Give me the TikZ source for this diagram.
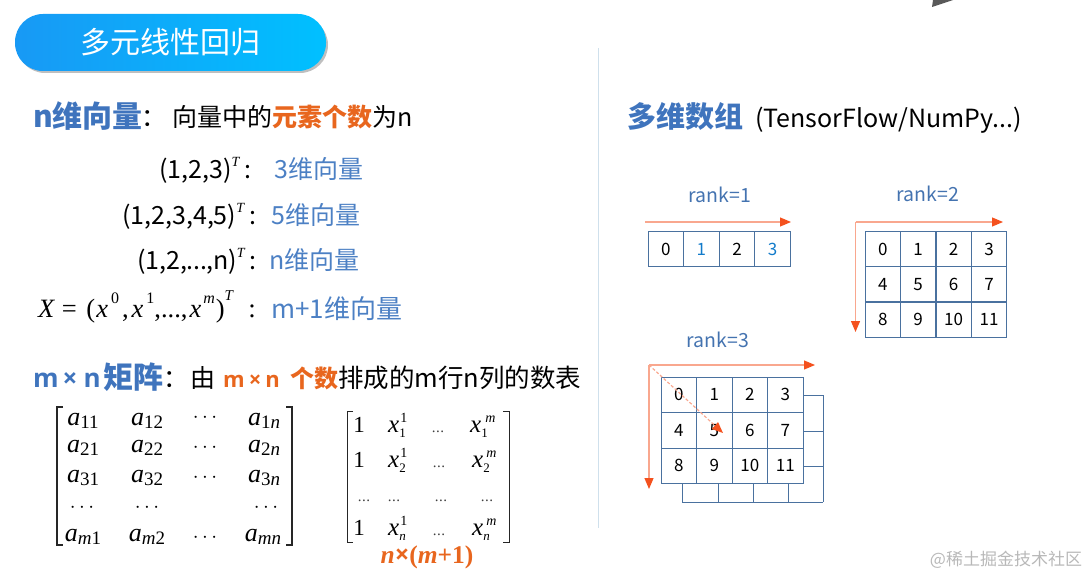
\documentclass[tikz,border=0pt]{standalone}
\usepackage{fontspec}
\setmainfont{Noto Sans CJK SC}
\newfontfamily\timesfont{Liberation Serif}
\newfontfamily\latinfont{Open Sans}
\usetikzlibrary{arrows.meta}
\definecolor{headblue}{HTML}{3F74BD}
\definecolor{softblue}{HTML}{4C80C4}
\definecolor{hotorange}{HTML}{E8661E}
\definecolor{gridblue}{HTML}{4A719F}
\definecolor{axisred}{HTML}{F4511E}
\definecolor{axispale}{HTML}{F9A78E}
\definecolor{divblue}{HTML}{CFE0EC}
\definecolor{pillleft}{HTML}{1899F5}
\definecolor{pillright}{HTML}{00C0FF}
\newcommand{\fsz}[1]{\fontsize{#1}{#1}\selectfont}
\newcommand{\ment}[2]{{\timesfont\itshape a\raisebox{-3pt}{\fsz{19}\upshape #1\itshape #2}}}
\newcommand{\xent}[3]{{\timesfont\itshape x\rlap{\hspace{#3}\raisebox{10pt}{\fsz{14}#2}}\raisebox{-5pt}{\fsz{13}#1}}}
\newcommand{\supT}{\raisebox{.5em}{\timesfont\itshape\fsz{14}T}\hspace{5pt}}
\newcommand{\supx}[1]{\raisebox{.5em}{\timesfont\fsz{16}#1}}
\newcommand{\tdots}{.\hspace{.6pt}.\hspace{.6pt}.}
\tikzset{
  txt/.style={inner sep=0pt,anchor=base west},
  vecline/.style={txt,font=\fsz{25}},
  vecname/.style={vecline,text=softblue},
  headtxt/.style={txt,font=\fsz{30}\bfseries,text=headblue},
  bodytxt/.style={txt,font=\fsz{25}},
  hottxt/.style={txt,font=\fsz{25}\bfseries,text=hotorange},
  matcell/.style={inner sep=0pt,anchor=base,font=\timesfont\fsz{26}},
  dotcell/.style={inner sep=0pt,anchor=base,font=\fsz{22}},
  onecell/.style={inner sep=0pt,anchor=base,font=\timesfont\fsz{23}},
  xcell/.style={inner sep=0pt,anchor=base west,font=\timesfont\fsz{25}},
  smalldots/.style={inner sep=0pt,anchor=base,font=\timesfont\fsz{15},text=black!75},
  bracket/.style={draw=black!85,line width=1.2pt},
  ranklabel/.style={inner sep=0pt,text=softblue!90!black,font=\fsz{19.5}},
  cell/.style={draw=gridblue,line width=1pt,inner sep=0pt,minimum width=35.6pt,minimum height=35.6pt,font=\fsz{17}},
  backline/.style={draw=gridblue,line width=1pt},
  axis/.style={draw=axispale,line width=1.2pt,-{Triangle[length=11pt,width=9pt,color=axisred]}}
}
\begin{document}
\begin{tikzpicture}[x=1pt,y=-1pt]
\useasboundingbox (0,0) rectangle (1092,577);
% title bar
\fill[black!25,rounded corners=28pt] (17,17) rectangle (328,73);
\shade[left color=pillleft,right color=pillright,rounded corners=28pt] (15,14) rectangle (326,71);
\node[inner sep=0pt,text=white,font=\fsz{30}] (title) at (170,42) {多元线性回归};
% top corner and watermark
\fill[black!65] (932,7) -- (933,0) -- (953,0) -- cycle;
\node[inner sep=0pt,text=black!28,font=\fsz{17}] (mark) at (1006,560) {@稀土掘金技术社区};
% divider
\coordinate (divtop) at (598.5,48); \coordinate (divbot) at (598.5,528);
\draw[color=divblue,line width=1pt] (divtop) -- (divbot);
% vectors
\node[headtxt] (vechead) at (33,128) {n维向量};
\node[bodytxt] (veccolon) at (141,127) {：};
\node[bodytxt] (vecdesc) at (172,127) {向量中的{\bfseries\color{hotorange}元素个数}为n};
\node[vecline] (v1) at (159,179) {(1,2,3)\supT:};
\node[vecname] (n1) at (274,179) {3维向量};
\node[vecline] (v2) at (122,225) {(1,2,3,4,5)\supT:};
\node[vecname] (n2) at (271,225) {5维向量};
\node[vecline] (v3) at (137,270) {(1,2,\hspace{-1pt}...\hspace{-1pt},n)\supT:};
\node[vecname] (n3) at (269,270) {n维向量};
\node[txt,font=\timesfont\fsz{26.5}] (v4) at (38,317) {\textit{X} = \hspace{3pt}(\hspace{1pt}\textit{x}\hspace{3pt}\supx{0}\hspace{3pt},\hspace{3pt}\textit{x}\hspace{3pt}\supx{1},...,\hspace{2pt}\textit{x}\hspace{2pt}\raisebox{.5em}{\fsz{16}\textit{m}}\hspace{1pt})\raisebox{.62em}{\itshape\fsz{15}T}};
\node[inner sep=0pt,anchor=base,font=\timesfont\fsz{27}] (v4colon) at (252,317) {:};
\node[vecname,font=\fsz{26}] (n4) at (271,318) {m+1维向量};
% matrices
\node[txt,font=\latinfont\fsz{26}\bfseries,text=headblue] (mathead) at (33,387) {m\hspace{4pt}×\hspace{6pt}n};
\node[headtxt] (matname) at (103,388) {矩阵};
\node[bodytxt] (matcolon) at (163,387) {：};
\node[bodytxt] (matyou) at (190,387) {由};
\node[txt,font=\latinfont\fsz{22}\bfseries,text=hotorange] (matmn) at (223,387) {m\hspace{4pt}×\hspace{4pt}n};
\node[hottxt,font=\fsz{24}\bfseries] (matnum) at (290,387) {个数};
\node[bodytxt,font=\fsz{25.5}] (matdesc) at (338,387) {排成的m行n列的数表};
\foreach \cx/\cy/\ctext in {83/425/\ment{11}{},147/425/\ment{12}{},264/425/\ment{1}{n},
  83/452/\ment{21}{},147/452/\ment{22}{},264/452/\ment{2}{n},
  83/482/\ment{31}{},147/482/\ment{32}{},264/482/\ment{3}{n},
  83/541/\ment{}{m}\raisebox{-3pt}{\fsz{19}1},147/541/\ment{}{m}\raisebox{-3pt}{\fsz{19}2},263/541/\ment{}{mn}} {
  \node[matcell] at (\cx,\cy) {\ctext};
}
\foreach \cx/\cy in {205/422,205/452,205/482,82/512,147/512,266/512,205/542} {
  \node[dotcell] at (\cx,\cy) {$\cdots$};
}
\coordinate (la) at (63,407); \coordinate (lb) at (57,407); \coordinate (lc) at (57,545); \coordinate (ld) at (63,545);
\coordinate (ra) at (286,407); \coordinate (rb) at (292,407); \coordinate (rc) at (292,545); \coordinate (rd) at (286,545);
\draw[bracket] (la) -- (lb) -- (lc) -- (ld);
\draw[bracket] (ra) -- (rb) -- (rc) -- (rd);
\foreach \cy in {432,467,535} {
  \node[onecell] at (359,\cy) {1};
}
\foreach \cx/\cy/\ctext in {388/432/\xent{\upshape 1}{\upshape 1}{1pt},388/467/\xent{\upshape 2}{\upshape 1}{1pt},388/535/\xent{n}{\upshape 1}{1pt},
  470/432/\xent{\upshape 1}{m}{4pt},472/467/\xent{\upshape 2}{m}{3pt},472/535/\xent{n}{m}{3pt}} {
  \node[xcell] at (\cx,\cy) {\ctext};
}
\foreach \cx/\cy in {438/432,439/467,439/535,364/501,394/501,441/501,487/501} {
  \node[smalldots] at (\cx,\cy) {\tdots};
}
\coordinate (sa) at (353,411); \coordinate (sb) at (347,411); \coordinate (sc) at (347,542); \coordinate (sd) at (353,542);
\coordinate (ta) at (503,411); \coordinate (tb) at (509,411); \coordinate (tc) at (509,542); \coordinate (td) at (503,542);
\draw[bracket,line width=.9pt] (sa) -- (sb) -- (sc) -- (sd);
\draw[bracket,line width=.9pt] (ta) -- (tb) -- (tc) -- (td);
\node[inner sep=0pt,anchor=base,text=hotorange,font=\timesfont\bfseries\fsz{25.5}] (matsize) at (427,563) {\textit{n}{\latinfont×}(\textit{m}+1)};
% arrays
\node[headtxt,font=\fsz{29}\bfseries] (arrhead) at (627,128) {多维数组};
\node[txt,font=\fsz{25}] (arrtool) at (755,128) {(TensorFlow/NumPy...)};
\node[ranklabel] (r1) at (720,195) {rank=1};
\node[ranklabel] (r2) at (928,194) {rank=2};
\node[ranklabel] (r3) at (718,340) {rank=3};
% rank 1
\foreach \i/\ctext in {0/0,1/\textcolor{cyan!60!blue}{1},2/2,3/\textcolor{cyan!60!blue}{3}} {
  \node[cell] (a\i) at (665.8+35.6*\i,249) {\ctext};
}
\coordinate (o1) at (645,222); \coordinate (e1) at (791,222);
\draw[axis] (o1) -- (e1);
% rank 2
\foreach \i/\j/\n in {0/0/0,1/0/1,2/0/2,3/0/3,0/1/4,1/1/5,2/1/6,3/1/7,0/2/8,1/2/9,2/2/10,3/2/11} {
  \node[cell] (b\n) at (882.8+35.4*\i,249+35.4*\j) {\n};
}
\coordinate (o2) at (855.5,222); \coordinate (e2h) at (1003,222); \coordinate (e2v) at (855.5,332);
\draw[axis] (o2) -- (e2h);
\draw[axis] (o2) -- (e2v);
% rank 3
\foreach \xa/\ya/\xb/\yb in {803/395/823/395,803/431/823/431,803/466/823/466,823/395/823/502,682/502/823/502,682/483/682/502,718/483/718/502,753/483/753/502,788/483/788/502} {
  \draw[backline] (\xa,\ya) -- (\xb,\yb);
}
\foreach \i/\j/\n in {0/0/0,1/0/1,2/0/2,3/0/3,0/1/4,1/1/5,2/1/6,3/1/7,0/2/8,1/2/9,2/2/10,3/2/11} {
  \node[cell] (c\n) at (678.8+35.5*\i,394.8+35.5*\j) {\n};
}
\coordinate (o3) at (649,365); \coordinate (e3h) at (815,365); \coordinate (e3v) at (649,489); \coordinate (e3d) at (723,433);
\draw[axis] (o3) -- (e3h);
\draw[axis] (o3) -- (e3v);
\draw[axis,densely dashed] (o3) -- (e3d);
\end{tikzpicture}
\end{document}
